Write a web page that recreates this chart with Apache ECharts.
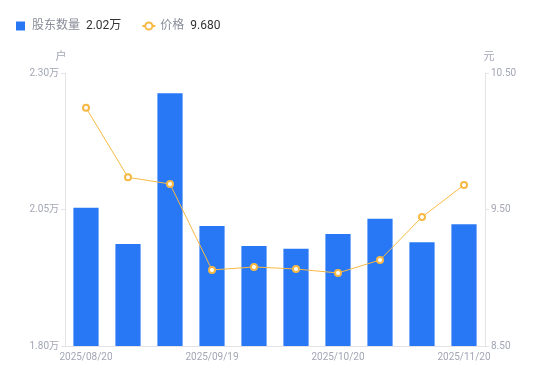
<!DOCTYPE html>
<html><head><meta charset="utf-8">
<script src="https://cdn.jsdelivr.net/npm/echarts@6/dist/echarts.min.js"></script>
<style>html,body{margin:0;padding:0;background:#fff}#c{width:550px;height:381px}</style>
</head><body><div id="c"></div>
<script>
const categories = ['2025/08/20','2025/08/30','2025/09/10','2025/09/19','2025/09/30','2025/10/10','2025/10/20','2025/10/31','2025/11/10','2025/11/20'];
const holders = [2.053, 1.987, 2.263, 2.020, 1.983, 1.978, 2.005, 2.033, 1.990, 2.023];
const prices = [10.245, 9.736, 9.687, 9.057, 9.079, 9.064, 9.035, 9.130, 9.445, 9.680];
const legendValues = {'股东数量': '2.02万', '价格': '9.680'};

const chart = echarts.init(document.getElementById('c'));
const axisLabelColor = '#a3a6b4';
chart.setOption({
  animation: false,
  textStyle: {fontFamily: 'Roboto, "Noto Sans CJK SC", sans-serif'},
  legend: {
    left: 11, top: 15, itemGap: 20, itemWidth: 13, itemHeight: 9,
    formatter: n => '{n|' + n + '}  {v|' + legendValues[n] + '}',
    textStyle: {rich: {n: {color: '#8a8d99', fontSize: 12}, v: {color: '#333', fontSize: 12}}},
    data: [{name: '股东数量', icon: 'path://M0,0L10,0L10,10L0,10Z'}, {name: '价格'}]
  },
  grid: {left: 65, right: 65, top: 73, bottom: 35},
  xAxis: {
    type: 'category', data: categories,
    axisLine: {lineStyle: {color: '#e3e3e8'}},
    axisTick: {show: false},
    axisLabel: {color: axisLabelColor, fontSize: 10, interval: 2, margin: 6}
  },
  yAxis: [{
    type: 'value', min: 1.80, max: 2.30, interval: 0.25, name: '户',
    nameTextStyle: {color: axisLabelColor, fontSize: 11, padding: [0, 8, 0, 0]},
    nameGap: 10,
    axisLine: {show: true, lineStyle: {color: '#e3e3e8'}},
    axisTick: {show: true, length: 4, lineStyle: {color: '#e3e3e8'}},
    splitLine: {show: false},
    axisLabel: {color: axisLabelColor, fontSize: 10, margin: 6, formatter: v => v.toFixed(2) + '万'}
  }, {
    type: 'value', min: 8.50, max: 10.50, interval: 1, name: '元',
    nameTextStyle: {color: axisLabelColor, fontSize: 11, padding: [0, 0, 0, 8]},
    nameGap: 10,
    axisLine: {show: true, lineStyle: {color: '#e3e3e8'}},
    axisTick: {show: true, length: 4, lineStyle: {color: '#e3e3e8'}},
    splitLine: {show: false},
    axisLabel: {color: axisLabelColor, fontSize: 10, margin: 6, formatter: v => v.toFixed(2)}
  }],
  series: [{
    name: '股东数量', type: 'bar', data: holders, barWidth: '60%',
    itemStyle: {color: '#2878f5'}
  }, {
    name: '价格', type: 'line', yAxisIndex: 1, data: prices,
    symbol: 'circle', symbolSize: 6, showAllSymbol: true,
    lineStyle: {color: '#f7b944', width: 1},
    itemStyle: {color: '#fff', borderColor: '#f7b944', borderWidth: 2}
  }]
});
</script></body></html>
